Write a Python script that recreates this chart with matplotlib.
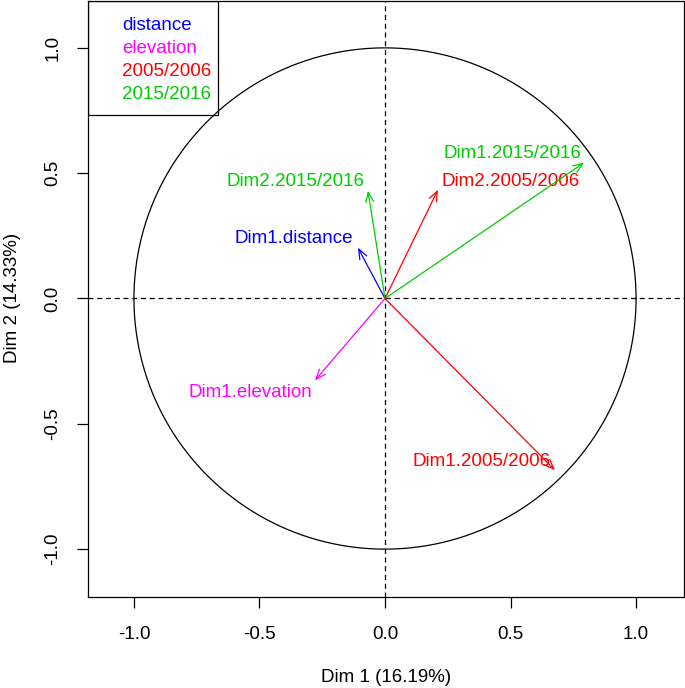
import numpy as np
import matplotlib
matplotlib.use("Agg")
import matplotlib.pyplot as plt

plt.rcParams['font.family'] = ['Liberation Sans', 'DejaVu Sans']

# variables (coordonnees des fleches sur Dim 1 / Dim 2)
var_names = ["Dim1.distance", "Dim2.2015/2016", "Dim2.2005/2006",
             "Dim1.2015/2016", "Dim1.elevation", "Dim1.2005/2006"]
dim1 = [-0.108, -0.068, 0.211, 0.793, -0.279, 0.677]
dim2 = [0.203, 0.430, 0.434, 0.542, -0.327, -0.685]
var_colors = ["blue", "#00CD00", "red", "#00CD00", "magenta", "red"]
# position des etiquettes
lab_x = [-0.363, -0.358, 0.502, 0.506, -0.538, 0.386]
lab_y = [0.239, 0.466, 0.466, 0.578, -0.375, -0.649]

groups = ["distance", "elevation", "2005/2006", "2015/2016"]
group_colors = ["blue", "magenta", "red", "#00CD00"]

xlab = "Dim 1 (16.19%)"
ylab = "Dim 2 (14.33%)"
ticks = [-1.0, -0.5, 0.0, 0.5, 1.0]
fs = 13.5

fig = plt.figure(figsize=(6.85, 6.88), dpi=100)
ax = fig.add_axes([88/685, 91/688, 596/685, 596/688])
ax.set_xlim(-1.183, 1.191)
ax.set_ylim(-1.191, 1.187)

t = np.linspace(0, 2*np.pi, 400)
ax.plot(np.cos(t), np.sin(t), color="black", lw=0.9)
ax.axhline(0, color="black", lw=0.9, ls=(0, (4, 3)))
ax.axvline(0, color="black", lw=0.9, ls=(0, (4, 3)))

for i in range(len(var_names)):
    ax.annotate("", xy=(dim1[i], dim2[i]), xytext=(0, 0),
                arrowprops=dict(arrowstyle="->,head_length=0.7,head_width=0.28",
                                color=var_colors[i], lw=0.9, shrinkA=0, shrinkB=0))
    ax.text(lab_x[i], lab_y[i], var_names[i], color=var_colors[i],
            fontsize=fs, ha="center", va="center")

# legende
leg_w = (218 - 88) / 596
leg_h = 114 / 596
ax.add_patch(plt.Rectangle((0, 1 - leg_h), leg_w, leg_h, transform=ax.transAxes,
                           fill=False, edgecolor="black", lw=0.9))
for i, g in enumerate(groups):
    yp = 1 - (25 + 22.7 * i) / 596
    ax.text((122 - 88) / 596, yp, g, color=group_colors[i], fontsize=fs,
            ha="left", va="center", transform=ax.transAxes)

ax.set_xticks(ticks)
ax.set_yticks(ticks)
ax.set_xticklabels([f"{v:.1f}" for v in ticks], fontsize=fs)
ax.set_yticklabels([f"{v:.1f}" for v in ticks], fontsize=fs, rotation=90, va="center")
ax.tick_params(axis="x", length=8, width=0.9, pad=13)
ax.tick_params(axis="y", length=8, width=0.9, pad=11)
for s in ax.spines.values():
    s.set_linewidth(0.9)

fig.text(386/685, 1 - 677/688, xlab, fontsize=fs, ha="center", va="center")
fig.text(13/685, 1 - 298/688, ylab, fontsize=fs, ha="center", va="center", rotation=90)

fig.savefig("out.png", dpi=100)
